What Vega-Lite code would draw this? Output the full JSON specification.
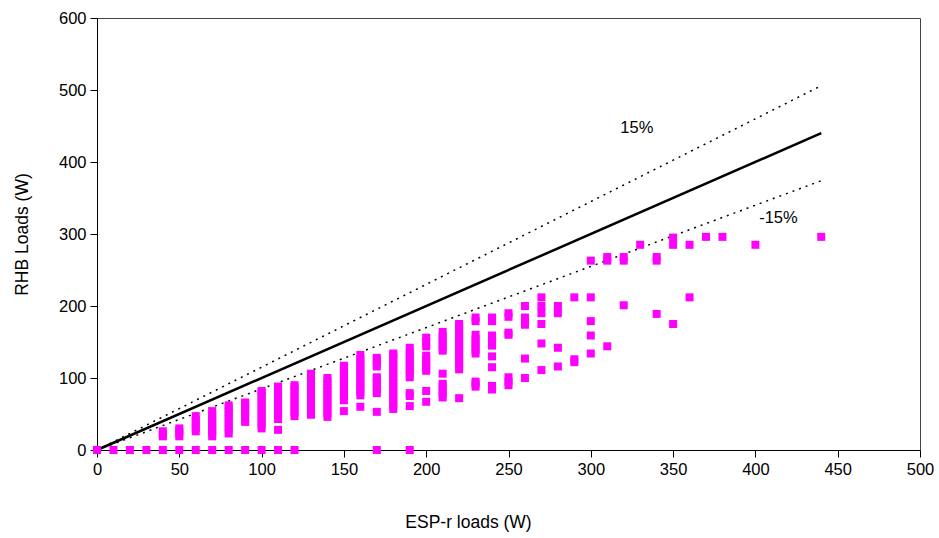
{
  "$schema": "https://vega.github.io/schema/vega-lite/v6.json",
  "width": 823,
  "height": 432,
  "autosize": "none",
  "padding": {"left": 97, "top": 18, "right": 19, "bottom": 88},
  "background": "white",
  "config": {
    "view": {"stroke": "#444", "strokeWidth": 1},
    "axis": {
      "grid": false,
      "domainColor": "#000",
      "tickColor": "#000",
      "tickSize": 7,
      "labelFont": "Liberation Sans",
      "labelFontSize": 16.5,
      "labelColor": "#000",
      "titleFont": "Liberation Sans",
      "titleFontSize": 17.5,
      "titleFontWeight": "normal",
      "titleColor": "#000",
      "labelFlush": false
    }
  },
  "datasets": {
    "pts": [
      {"x":0,"y":0},{"x":10,"y":0},{"x":20,"y":0},{"x":30,"y":0},{"x":40,"y":0},{"x":50,"y":0},{"x":60,"y":0},{"x":70,"y":0},{"x":80,"y":0},{"x":90,"y":0},{"x":100,"y":0},{"x":110,"y":0},{"x":120,"y":0},{"x":170,"y":0},{"x":190,"y":0},
      {"x":40,"y":19},{"x":40,"y":22},{"x":40,"y":26},
      {"x":50,"y":19},{"x":50,"y":23},{"x":50,"y":27},{"x":50,"y":30},
      {"x":60,"y":26},{"x":60,"y":31},{"x":60,"y":36},{"x":60,"y":41},{"x":60,"y":47},
      {"x":70,"y":19},{"x":70,"y":24},{"x":70,"y":29},{"x":70,"y":34},{"x":70,"y":39},{"x":70,"y":44},{"x":70,"y":49},{"x":70,"y":54},
      {"x":80,"y":23},{"x":80,"y":28},{"x":80,"y":33},{"x":80,"y":38},{"x":80,"y":43},{"x":80,"y":48},{"x":80,"y":53},{"x":80,"y":58},{"x":80,"y":62},
      {"x":90,"y":39},{"x":90,"y":44},{"x":90,"y":49},{"x":90,"y":54},{"x":90,"y":59},{"x":90,"y":64},{"x":90,"y":66},
      {"x":100,"y":30},{"x":100,"y":35},{"x":100,"y":40},{"x":100,"y":45},{"x":100,"y":50},{"x":100,"y":55},{"x":100,"y":60},{"x":100,"y":65},{"x":100,"y":70},{"x":100,"y":75},{"x":100,"y":80},{"x":100,"y":82},
      {"x":110,"y":28},{"x":110,"y":43},{"x":110,"y":48},{"x":110,"y":53},{"x":110,"y":58},{"x":110,"y":63},{"x":110,"y":68},{"x":110,"y":73},{"x":110,"y":78},{"x":110,"y":83},{"x":110,"y":88},
      {"x":120,"y":47},{"x":120,"y":52},{"x":120,"y":57},{"x":120,"y":62},{"x":120,"y":67},{"x":120,"y":72},{"x":120,"y":77},{"x":120,"y":82},{"x":120,"y":87},{"x":120,"y":90},
      {"x":130,"y":49},{"x":130,"y":54},{"x":130,"y":59},{"x":130,"y":64},{"x":130,"y":69},{"x":130,"y":74},{"x":130,"y":79},{"x":130,"y":84},{"x":130,"y":89},{"x":130,"y":94},{"x":130,"y":99},{"x":130,"y":104},{"x":130,"y":106},
      {"x":140,"y":46},{"x":140,"y":51},{"x":140,"y":56},{"x":140,"y":61},{"x":140,"y":66},{"x":140,"y":71},{"x":140,"y":76},{"x":140,"y":81},{"x":140,"y":86},{"x":140,"y":91},{"x":140,"y":96},{"x":140,"y":100},
      {"x":150,"y":54},{"x":150,"y":69},{"x":150,"y":74},{"x":150,"y":79},{"x":150,"y":84},{"x":150,"y":89},{"x":150,"y":94},{"x":150,"y":99},{"x":150,"y":104},{"x":150,"y":109},{"x":150,"y":114},{"x":150,"y":117},
      {"x":160,"y":60},{"x":160,"y":76},{"x":160,"y":81},{"x":160,"y":86},{"x":160,"y":91},{"x":160,"y":96},{"x":160,"y":101},{"x":160,"y":106},{"x":160,"y":111},{"x":160,"y":116},{"x":160,"y":121},{"x":160,"y":126},{"x":160,"y":132},
      {"x":170,"y":53},{"x":170,"y":79},{"x":170,"y":84},{"x":170,"y":89},{"x":170,"y":94},{"x":170,"y":99},{"x":170,"y":101},{"x":170,"y":116},{"x":170,"y":121},{"x":170,"y":125},{"x":170,"y":128},
      {"x":180,"y":57},{"x":180,"y":62},{"x":180,"y":67},{"x":180,"y":72},{"x":180,"y":77},{"x":180,"y":82},{"x":180,"y":87},{"x":180,"y":92},{"x":180,"y":97},{"x":180,"y":102},{"x":180,"y":107},{"x":180,"y":112},{"x":180,"y":117},{"x":180,"y":122},{"x":180,"y":127},{"x":180,"y":132},{"x":180,"y":134},
      {"x":190,"y":61},{"x":190,"y":75},{"x":190,"y":79},{"x":190,"y":101},{"x":190,"y":106},{"x":190,"y":111},{"x":190,"y":116},{"x":190,"y":121},{"x":190,"y":126},{"x":190,"y":131},{"x":190,"y":136},{"x":190,"y":142},
      {"x":200,"y":67},{"x":200,"y":82},{"x":200,"y":110},{"x":200,"y":115},{"x":200,"y":120},{"x":200,"y":125},{"x":200,"y":131},{"x":200,"y":144},{"x":200,"y":150},{"x":200,"y":156},
      {"x":210,"y":73},{"x":210,"y":78},{"x":210,"y":83},{"x":210,"y":88},{"x":210,"y":92},{"x":210,"y":106},{"x":210,"y":138},{"x":210,"y":143},{"x":210,"y":148},{"x":210,"y":153},{"x":210,"y":158},{"x":210,"y":164},
      {"x":220,"y":72},{"x":220,"y":112},{"x":220,"y":117},{"x":220,"y":122},{"x":220,"y":127},{"x":220,"y":132},{"x":220,"y":137},{"x":220,"y":142},{"x":220,"y":147},{"x":220,"y":152},{"x":220,"y":157},{"x":220,"y":162},{"x":220,"y":167},{"x":220,"y":172},{"x":220,"y":175},
      {"x":230,"y":88},{"x":230,"y":92},{"x":230,"y":95},{"x":230,"y":134},{"x":230,"y":139},{"x":230,"y":144},{"x":230,"y":149},{"x":230,"y":154},{"x":230,"y":160},{"x":230,"y":179},{"x":230,"y":184},
      {"x":240,"y":84},{"x":240,"y":89},{"x":240,"y":115},{"x":240,"y":130},{"x":240,"y":145},{"x":240,"y":150},{"x":240,"y":155},{"x":240,"y":159},{"x":240,"y":179},{"x":240,"y":184},
      {"x":250,"y":90},{"x":250,"y":95},{"x":250,"y":101},{"x":250,"y":160},{"x":250,"y":163},{"x":250,"y":185},{"x":250,"y":190},
      {"x":260,"y":100},{"x":260,"y":127},{"x":260,"y":174},{"x":260,"y":179},{"x":260,"y":184},{"x":260,"y":200},
      {"x":270,"y":111},{"x":270,"y":148},{"x":270,"y":175},{"x":270,"y":190},{"x":270,"y":200},{"x":270,"y":212},
      {"x":280,"y":116},{"x":280,"y":142},{"x":280,"y":190},{"x":280,"y":200},
      {"x":290,"y":122},{"x":290,"y":126},{"x":290,"y":212},
      {"x":300,"y":134},{"x":300,"y":159},{"x":300,"y":179},{"x":300,"y":212},{"x":300,"y":263},
      {"x":310,"y":144},{"x":310,"y":263},{"x":310,"y":268},
      {"x":320,"y":201},{"x":320,"y":263},{"x":320,"y":268},
      {"x":330,"y":285},
      {"x":340,"y":189},{"x":340,"y":263},{"x":340,"y":268},
      {"x":350,"y":175},{"x":350,"y":285},{"x":350,"y":295},
      {"x":360,"y":212},{"x":360,"y":285},
      {"x":370,"y":296},{"x":380,"y":296},{"x":400,"y":285},{"x":440,"y":296}
    ],
    "lines": [
      {"s":"eq","x":0,"y":0},{"s":"eq","x":440,"y":440},
      {"s":"p15","x":0,"y":0},{"s":"p15","x":440,"y":506},
      {"s":"m15","x":0,"y":0},{"s":"m15","x":440,"y":374}
    ],
    "labels": [
      {"t":"15%","x":328,"y":447},
      {"t":"-15%","x":414,"y":322}
    ]
  },
  "layer": [
    {
      "data": {"name": "lines"},
      "transform": [{"filter": "datum.s !== 'eq'"}],
      "mark": {"type": "line", "color": "#000", "strokeWidth": 1.5, "strokeDash": [2, 5]},
      "encoding": {
        "x": {"field": "x", "type": "quantitative", "scale": {"domain": [0, 500], "nice": false}, "axis": {"values": [0,50,100,150,200,250,300,350,400,450,500], "title": "ESP-r loads (W)", "titleX": 371, "titleY": 72, "titleBaseline": "middle", "labelPadding": 4}},
        "y": {"field": "y", "type": "quantitative", "scale": {"domain": [0, 600], "nice": false}, "axis": {"values": [0,100,200,300,400,500,600], "title": "RHB Loads (W)", "titleX": -75, "titleY": 216, "titleBaseline": "middle", "labelPadding": 4}},
        "detail": {"field": "s"}
      }
    },
    {
      "data": {"name": "lines"},
      "transform": [{"filter": "datum.s === 'eq'"}],
      "mark": {"type": "line", "color": "#000", "strokeWidth": 2.5},
      "encoding": {
        "x": {"field": "x", "type": "quantitative"},
        "y": {"field": "y", "type": "quantitative"}
      }
    },
    {
      "data": {"name": "pts"},
      "mark": {"type": "point", "shape": "square", "filled": true, "size": 64, "color": "#FF00FF", "opacity": 1},
      "encoding": {
        "x": {"field": "x", "type": "quantitative"},
        "y": {"field": "y", "type": "quantitative"}
      }
    },
    {
      "data": {"name": "labels"},
      "mark": {"type": "text", "font": "Liberation Sans", "fontSize": 16.5, "color": "#000"},
      "encoding": {
        "x": {"field": "x", "type": "quantitative"},
        "y": {"field": "y", "type": "quantitative"},
        "text": {"field": "t"}
      }
    }
  ]
}
